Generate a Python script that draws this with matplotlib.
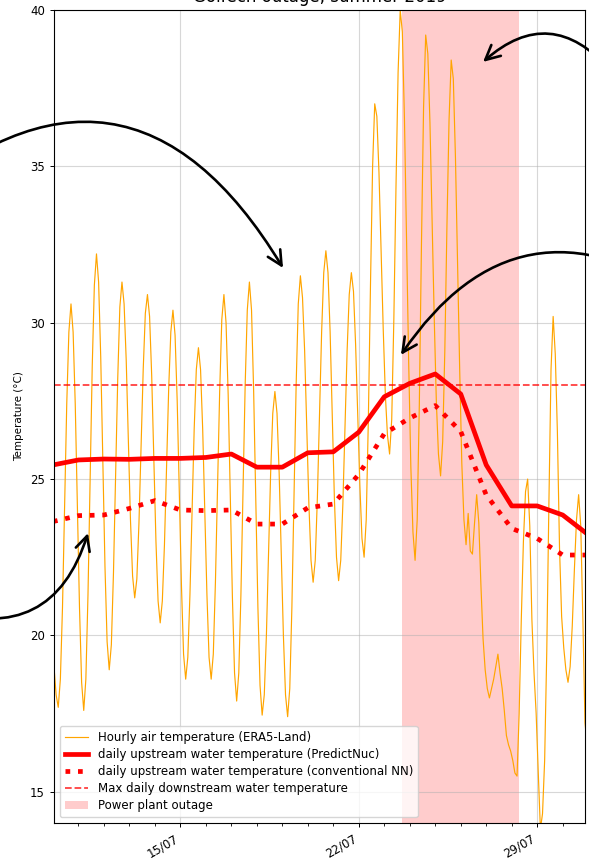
import matplotlib
matplotlib.use("Agg")
import matplotlib.pyplot as plt
import matplotlib.dates as mdates
import pandas as pd

# ---------------- data ----------------
# Air temperature (ERA5-Land), one row per day 10/07 .. 30/07,
# values at 01,03,05,...,23 h
air_rows = [
    [19.0, 18.1, 17.7, 18.6, 20.9, 24.2, 27.4, 29.7, 30.6, 29.7, 27.4, 24.1],  # 10/07
    [20.9, 18.5, 17.6, 18.6, 21.3, 24.9, 28.6, 31.2, 32.2, 31.3, 28.9, 25.6],  # 11/07
    [22.2, 19.8, 18.9, 19.7, 22.0, 25.1, 28.2, 30.5, 31.3, 30.6, 28.8, 26.3],  # 12/07
    [23.7, 21.9, 21.2, 21.8, 23.6, 26.1, 28.5, 30.3, 30.9, 30.2, 28.3, 25.7],  # 13/07
    [23.0, 21.1, 20.4, 21.1, 22.9, 25.4, 27.9, 29.7, 30.4, 29.6, 27.5, 24.5],  # 14/07
    [21.6, 19.4, 18.6, 19.3, 21.3, 23.9, 26.6, 28.5, 29.2, 28.5, 26.6, 23.9],  # 15/07
    [21.3, 19.3, 18.6, 19.4, 21.7, 24.8, 27.8, 30.1, 30.9, 30.0, 27.7, 24.4],  # 16/07
    [21.2, 18.8, 17.9, 18.8, 21.3, 24.6, 28.0, 30.4, 31.3, 30.4, 27.8, 24.4],  # 17/07
    [20.9, 18.4, 17.45, 18.1, 20.0, 22.6, 25.2, 27.1, 27.8, 27.1, 25.2, 22.6],  # 18/07
    [20.0, 18.1, 17.4, 18.3, 20.9, 24.5, 28.0, 30.6, 31.5, 30.8, 29.1, 26.6],  # 19/07
    [24.2, 22.4, 21.7, 22.4, 24.4, 27.0, 29.7, 31.6, 32.3, 31.6, 29.7, 27.0],  # 20/07
    [24.4, 22.5, 21.75, 22.4, 24.2, 26.7, 29.1, 30.9, 31.6, 31.0, 29.3, 27.1],  # 21/07
    [24.8, 23.1, 22.5, 23.7, 26.9, 31.2, 35.0, 37.0, 36.6, 34.8, 32.3, 29.8],  # 22/07
    [27.7, 26.4, 25.8, 26.9, 30.1, 34.3, 38.0, 40.0, 39.3, 36.5, 32.6, 28.7],  # 23/07
    [25.4, 23.3, 22.4, 23.7, 27.4, 32.5, 36.9, 39.2, 38.6, 36.4, 33.3, 30.2],  # 24/07
    [27.5, 25.8, 25.1, 26.2, 29.1, 33.1, 36.5, 38.4, 37.8, 35.3, 31.9, 28.5],  # 25/07
    [25.5, 23.7, 22.9, 23.9, 22.7, 22.6, 23.6, 24.5, 23.6, 21.6, 19.9, 18.9],  # 26/07
    [18.3, 18.0, 18.3, 18.6, 19.0, 19.4, 18.8, 18.3, 17.6, 16.8, 16.5, 16.3],  # 27/07
    [16.0, 15.6, 15.5, 17.5, 20.5, 23.0, 24.6, 25.0, 23.5, 20.5, 18.8, 17.5],  # 28/07
    [15.6, 13.8, 14.3, 16.0, 19.5, 24.2, 28.5, 30.2, 29.0, 26.5, 22.8, 20.6],  # 29/07
    [19.6, 18.9, 18.5, 19.0, 20.3, 22.1, 23.7, 24.5, 23.5, 20.5, 17.2, 16.5],  # 30/07
]

# daily upstream water temperature, 10/07 .. 31/07
predictnuc = [25.45, 25.61, 25.64, 25.63, 25.66, 25.66, 25.69, 25.80, 25.38, 25.38,
              25.84, 25.87, 26.50, 27.63, 28.06, 28.36, 27.72, 25.45, 24.14, 24.14,
              23.85, 23.22]
conventional_nn = [23.64, 23.83, 23.85, 24.06, 24.31, 24.01, 23.99, 24.01, 23.56, 23.56,
                   24.08, 24.20, 25.15, 26.45, 26.95, 27.35, 26.52, 24.49, 23.42, 23.10,
                   22.57, 22.57]

max_downstream = 28.0
outage_start = "2019-07-23 17:00"
outage_end = "2019-07-28 07:00"

labels = [
    "Hourly air temperature (ERA5-Land)",
    "daily upstream water temperature (PredictNuc)",
    "daily upstream water temperature (conventional NN)",
    "Max daily downstream water temperature",
    "Power plant outage",
]
title = "Golfech outage, summer 2019"
ylabel = "Temperature (°C)"
yticks = [15, 20, 25, 30, 35, 40]

# annotation arrows: target (time, value), start (figure pixels), curvature
arrow_targets = [("2019-07-19 00:40", 31.75), ("2019-07-26 21:00", 38.34),
                 ("2019-07-23 15:40", 28.97), ("2019-07-11 09:00", 23.27)]
arrow_starts = [(-100, 655), (610, 795), (690, 565), (-60, 255)]
arrow_rads = [-0.6, 0.5, 0.5, 0.5]

# ---------------- plotting ----------------
air = [v for row in air_rows for v in row]
air_times = pd.date_range("2019-07-10 01:00", periods=len(air), freq="2h")
days = pd.date_range("2019-07-10", periods=len(predictnuc), freq="D")

plt.rcParams["font.family"] = ["DejaVu Sans"]
fig = plt.figure(figsize=(5.89, 8.65), dpi=100)
ax = fig.add_axes([54 / 589, 42 / 865, 531 / 589, 813 / 865])

span = ax.axvspan(pd.Timestamp(outage_start), pd.Timestamp(outage_end),
                  color="red", alpha=0.2, lw=0, label=labels[4])
l1, = ax.plot(air_times, air, color="orange", lw=0.85, label=labels[0])
l2, = ax.plot(days, predictnuc, color="red", lw=3.4, label=labels[1])
l3, = ax.plot(days, conventional_nn, color="red", lw=3.4, ls=":", label=labels[2])
l4 = ax.axhline(max_downstream, color="red", ls="--", lw=1.3, alpha=0.75, label=labels[3])

ax.set_xlim(pd.Timestamp("2019-07-10 01:00"), pd.Timestamp("2019-07-30 21:00"))
ax.set_ylim(14, 40)
ax.set_yticks(yticks)
ax.xaxis.set_major_locator(mdates.WeekdayLocator(byweekday=mdates.MO))
ax.xaxis.set_minor_locator(mdates.DayLocator())
ax.xaxis.set_major_formatter(mdates.DateFormatter("%d/%m"))
ax.tick_params(axis="both", which="major", labelsize=8.5, length=3, width=0.7)
ax.tick_params(axis="x", which="minor", length=1.8, width=0.6)
for lab in ax.get_xticklabels():
    lab.set_rotation(30)
    lab.set_ha("right")

ax.grid(True, which="major", color="#b0b0b0", alpha=0.5, lw=0.8)
ax.set_ylabel(ylabel, fontsize=7.5, labelpad=4)
ax.set_title(title, fontsize=12, pad=5.5)
for s in ax.spines.values():
    s.set_linewidth(0.8)

ax.legend(handles=[l1, l2, l3, l4, span], loc="lower left", fontsize=8.5,
          labelspacing=0.35)

for (t, v), (sx, sy), rad in zip(arrow_targets, arrow_starts, arrow_rads):
    ax.annotate("", xy=(mdates.date2num(pd.Timestamp(t)), v), xycoords="data",
                xytext=(sx, sy), textcoords="figure pixels", annotation_clip=False,
                arrowprops=dict(arrowstyle="->", connectionstyle=f"arc3,rad={rad}",
                                color="black", lw=1.9, shrinkA=0, shrinkB=0,
                                mutation_scale=26))

fig.savefig("out.png", dpi=100)
